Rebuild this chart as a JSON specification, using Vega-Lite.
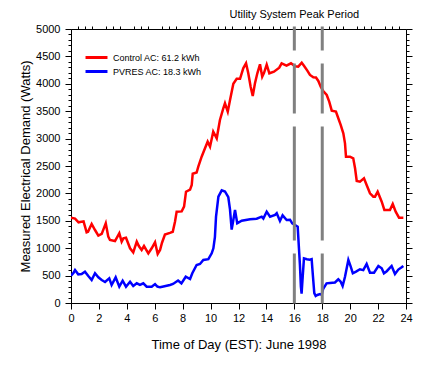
{
  "$schema": "https://vega.github.io/schema/vega-lite/v6.json",
  "width": 335,
  "height": 274,
  "autosize": {"type": "none"},
  "padding": {"left": 71, "top": 29, "right": 25, "bottom": 66},
  "background": "white",
  "config": {
    "view": {"stroke": "black", "strokeWidth": 1},
    "font": "Liberation Sans",
    "axis": {
      "grid": false,
      "domainColor": "black",
      "tickColor": "black",
      "labelColor": "black",
      "titleColor": "black",
      "labelFont": "Liberation Sans",
      "titleFont": "Liberation Sans",
      "labelFontSize": 11,
      "titleFontSize": 13,
      "titleFontWeight": "normal",
      "labelOverlap": false
    },
    "legend": {
      "labelFont": "Liberation Sans",
      "labelFontSize": 9,
      "labelColor": "black"
    }
  },
  "datasets": {
    "demand": [
      {"t":0,"W":1557,"s":"Control AC: 61.2 kWh"},{"t":0.29,"W":1540,"s":"Control AC: 61.2 kWh"},{"t":0.54,"W":1473,"s":"Control AC: 61.2 kWh"},{"t":0.9,"W":1490,"s":"Control AC: 61.2 kWh"},{"t":1.12,"W":1290,"s":"Control AC: 61.2 kWh"},{"t":1.22,"W":1300,"s":"Control AC: 61.2 kWh"},{"t":1.48,"W":1442,"s":"Control AC: 61.2 kWh"},{"t":1.72,"W":1332,"s":"Control AC: 61.2 kWh"},{"t":1.96,"W":1229,"s":"Control AC: 61.2 kWh"},{"t":2.2,"W":1260,"s":"Control AC: 61.2 kWh"},{"t":2.49,"W":1454,"s":"Control AC: 61.2 kWh"},{"t":2.67,"W":1210,"s":"Control AC: 61.2 kWh"},{"t":2.79,"W":1150,"s":"Control AC: 61.2 kWh"},{"t":3.15,"W":1131,"s":"Control AC: 61.2 kWh"},{"t":3.46,"W":1272,"s":"Control AC: 61.2 kWh"},{"t":3.63,"W":1120,"s":"Control AC: 61.2 kWh"},{"t":3.75,"W":1180,"s":"Control AC: 61.2 kWh"},{"t":3.94,"W":1190,"s":"Control AC: 61.2 kWh"},{"t":4.23,"W":998,"s":"Control AC: 61.2 kWh"},{"t":4.46,"W":925,"s":"Control AC: 61.2 kWh"},{"t":4.71,"W":1120,"s":"Control AC: 61.2 kWh"},{"t":4.87,"W":1034,"s":"Control AC: 61.2 kWh"},{"t":5.06,"W":967,"s":"Control AC: 61.2 kWh"},{"t":5.23,"W":1040,"s":"Control AC: 61.2 kWh"},{"t":5.54,"W":906,"s":"Control AC: 61.2 kWh"},{"t":5.78,"W":998,"s":"Control AC: 61.2 kWh"},{"t":6.02,"W":1108,"s":"Control AC: 61.2 kWh"},{"t":6.21,"W":894,"s":"Control AC: 61.2 kWh"},{"t":6.38,"W":967,"s":"Control AC: 61.2 kWh"},{"t":6.52,"W":1100,"s":"Control AC: 61.2 kWh"},{"t":6.73,"W":1250,"s":"Control AC: 61.2 kWh"},{"t":7.09,"W":1280,"s":"Control AC: 61.2 kWh"},{"t":7.29,"W":1300,"s":"Control AC: 61.2 kWh"},{"t":7.45,"W":1484,"s":"Control AC: 61.2 kWh"},{"t":7.57,"W":1667,"s":"Control AC: 61.2 kWh"},{"t":7.93,"W":1672,"s":"Control AC: 61.2 kWh"},{"t":8.1,"W":1758,"s":"Control AC: 61.2 kWh"},{"t":8.24,"W":2031,"s":"Control AC: 61.2 kWh"},{"t":8.53,"W":2070,"s":"Control AC: 61.2 kWh"},{"t":8.65,"W":2154,"s":"Control AC: 61.2 kWh"},{"t":8.72,"W":2360,"s":"Control AC: 61.2 kWh"},{"t":9.0,"W":2380,"s":"Control AC: 61.2 kWh"},{"t":9.12,"W":2488,"s":"Control AC: 61.2 kWh"},{"t":9.36,"W":2670,"s":"Control AC: 61.2 kWh"},{"t":9.6,"W":2823,"s":"Control AC: 61.2 kWh"},{"t":9.79,"W":2944,"s":"Control AC: 61.2 kWh"},{"t":9.96,"W":2853,"s":"Control AC: 61.2 kWh"},{"t":10.19,"W":3127,"s":"Control AC: 61.2 kWh"},{"t":10.44,"W":3005,"s":"Control AC: 61.2 kWh"},{"t":10.67,"W":3340,"s":"Control AC: 61.2 kWh"},{"t":10.91,"W":3553,"s":"Control AC: 61.2 kWh"},{"t":11.03,"W":3645,"s":"Control AC: 61.2 kWh"},{"t":11.23,"W":3492,"s":"Control AC: 61.2 kWh"},{"t":11.39,"W":3700,"s":"Control AC: 61.2 kWh"},{"t":11.63,"W":4000,"s":"Control AC: 61.2 kWh"},{"t":11.87,"W":4090,"s":"Control AC: 61.2 kWh"},{"t":12.11,"W":4090,"s":"Control AC: 61.2 kWh"},{"t":12.34,"W":4283,"s":"Control AC: 61.2 kWh"},{"t":12.54,"W":4374,"s":"Control AC: 61.2 kWh"},{"t":12.7,"W":4192,"s":"Control AC: 61.2 kWh"},{"t":12.87,"W":3948,"s":"Control AC: 61.2 kWh"},{"t":13.02,"W":3778,"s":"Control AC: 61.2 kWh"},{"t":13.18,"W":4009,"s":"Control AC: 61.2 kWh"},{"t":13.35,"W":4192,"s":"Control AC: 61.2 kWh"},{"t":13.54,"W":4356,"s":"Control AC: 61.2 kWh"},{"t":13.7,"W":4130,"s":"Control AC: 61.2 kWh"},{"t":13.83,"W":4200,"s":"Control AC: 61.2 kWh"},{"t":14.02,"W":4350,"s":"Control AC: 61.2 kWh"},{"t":14.21,"W":4192,"s":"Control AC: 61.2 kWh"},{"t":14.54,"W":4222,"s":"Control AC: 61.2 kWh"},{"t":14.92,"W":4295,"s":"Control AC: 61.2 kWh"},{"t":15.09,"W":4374,"s":"Control AC: 61.2 kWh"},{"t":15.44,"W":4331,"s":"Control AC: 61.2 kWh"},{"t":15.76,"W":4374,"s":"Control AC: 61.2 kWh"},{"t":16.05,"W":4320,"s":"Control AC: 61.2 kWh"},{"t":16.28,"W":4313,"s":"Control AC: 61.2 kWh"},{"t":16.53,"W":4386,"s":"Control AC: 61.2 kWh"},{"t":16.69,"W":4330,"s":"Control AC: 61.2 kWh"},{"t":16.93,"W":4240,"s":"Control AC: 61.2 kWh"},{"t":17.12,"W":4161,"s":"Control AC: 61.2 kWh"},{"t":17.36,"W":4119,"s":"Control AC: 61.2 kWh"},{"t":17.55,"W":4115,"s":"Control AC: 61.2 kWh"},{"t":17.72,"W":4052,"s":"Control AC: 61.2 kWh"},{"t":17.89,"W":3948,"s":"Control AC: 61.2 kWh"},{"t":18.07,"W":3869,"s":"Control AC: 61.2 kWh"},{"t":18.32,"W":3796,"s":"Control AC: 61.2 kWh"},{"t":18.5,"W":3674,"s":"Control AC: 61.2 kWh"},{"t":18.68,"W":3510,"s":"Control AC: 61.2 kWh"},{"t":18.98,"W":3492,"s":"Control AC: 61.2 kWh"},{"t":19.15,"W":3371,"s":"Control AC: 61.2 kWh"},{"t":19.32,"W":3249,"s":"Control AC: 61.2 kWh"},{"t":19.51,"W":3097,"s":"Control AC: 61.2 kWh"},{"t":19.63,"W":2914,"s":"Control AC: 61.2 kWh"},{"t":19.7,"W":2670,"s":"Control AC: 61.2 kWh"},{"t":19.99,"W":2670,"s":"Control AC: 61.2 kWh"},{"t":20.22,"W":2640,"s":"Control AC: 61.2 kWh"},{"t":20.35,"W":2458,"s":"Control AC: 61.2 kWh"},{"t":20.47,"W":2227,"s":"Control AC: 61.2 kWh"},{"t":20.7,"W":2214,"s":"Control AC: 61.2 kWh"},{"t":20.99,"W":2275,"s":"Control AC: 61.2 kWh"},{"t":21.18,"W":2154,"s":"Control AC: 61.2 kWh"},{"t":21.42,"W":2002,"s":"Control AC: 61.2 kWh"},{"t":21.66,"W":1940,"s":"Control AC: 61.2 kWh"},{"t":21.78,"W":1940,"s":"Control AC: 61.2 kWh"},{"t":21.97,"W":2031,"s":"Control AC: 61.2 kWh"},{"t":22.26,"W":1849,"s":"Control AC: 61.2 kWh"},{"t":22.45,"W":1697,"s":"Control AC: 61.2 kWh"},{"t":22.85,"W":1697,"s":"Control AC: 61.2 kWh"},{"t":23.05,"W":1807,"s":"Control AC: 61.2 kWh"},{"t":23.26,"W":1667,"s":"Control AC: 61.2 kWh"},{"t":23.5,"W":1557,"s":"Control AC: 61.2 kWh"},{"t":23.81,"W":1557,"s":"Control AC: 61.2 kWh"},
      {"t":0,"W":499,"s":"PVRES AC: 18.3 kWh"},{"t":0.19,"W":553,"s":"PVRES AC: 18.3 kWh"},{"t":0.29,"W":602,"s":"PVRES AC: 18.3 kWh"},{"t":0.52,"W":523,"s":"PVRES AC: 18.3 kWh"},{"t":0.76,"W":530,"s":"PVRES AC: 18.3 kWh"},{"t":1.0,"W":572,"s":"PVRES AC: 18.3 kWh"},{"t":1.24,"W":493,"s":"PVRES AC: 18.3 kWh"},{"t":1.48,"W":420,"s":"PVRES AC: 18.3 kWh"},{"t":1.72,"W":542,"s":"PVRES AC: 18.3 kWh"},{"t":1.96,"W":469,"s":"PVRES AC: 18.3 kWh"},{"t":2.2,"W":420,"s":"PVRES AC: 18.3 kWh"},{"t":2.44,"W":383,"s":"PVRES AC: 18.3 kWh"},{"t":2.74,"W":450,"s":"PVRES AC: 18.3 kWh"},{"t":2.91,"W":329,"s":"PVRES AC: 18.3 kWh"},{"t":3.2,"W":469,"s":"PVRES AC: 18.3 kWh"},{"t":3.46,"W":298,"s":"PVRES AC: 18.3 kWh"},{"t":3.7,"W":407,"s":"PVRES AC: 18.3 kWh"},{"t":3.94,"W":298,"s":"PVRES AC: 18.3 kWh"},{"t":4.23,"W":389,"s":"PVRES AC: 18.3 kWh"},{"t":4.46,"W":310,"s":"PVRES AC: 18.3 kWh"},{"t":4.71,"W":359,"s":"PVRES AC: 18.3 kWh"},{"t":4.94,"W":329,"s":"PVRES AC: 18.3 kWh"},{"t":5.18,"W":359,"s":"PVRES AC: 18.3 kWh"},{"t":5.42,"W":298,"s":"PVRES AC: 18.3 kWh"},{"t":5.78,"W":298,"s":"PVRES AC: 18.3 kWh"},{"t":6.02,"W":345,"s":"PVRES AC: 18.3 kWh"},{"t":6.19,"W":300,"s":"PVRES AC: 18.3 kWh"},{"t":6.38,"W":286,"s":"PVRES AC: 18.3 kWh"},{"t":6.62,"W":300,"s":"PVRES AC: 18.3 kWh"},{"t":7.09,"W":329,"s":"PVRES AC: 18.3 kWh"},{"t":7.31,"W":347,"s":"PVRES AC: 18.3 kWh"},{"t":7.67,"W":410,"s":"PVRES AC: 18.3 kWh"},{"t":7.91,"W":359,"s":"PVRES AC: 18.3 kWh"},{"t":8.22,"W":480,"s":"PVRES AC: 18.3 kWh"},{"t":8.53,"W":438,"s":"PVRES AC: 18.3 kWh"},{"t":8.69,"W":542,"s":"PVRES AC: 18.3 kWh"},{"t":9.0,"W":694,"s":"PVRES AC: 18.3 kWh"},{"t":9.24,"W":712,"s":"PVRES AC: 18.3 kWh"},{"t":9.48,"W":785,"s":"PVRES AC: 18.3 kWh"},{"t":9.84,"W":800,"s":"PVRES AC: 18.3 kWh"},{"t":10.08,"W":907,"s":"PVRES AC: 18.3 kWh"},{"t":10.2,"W":998,"s":"PVRES AC: 18.3 kWh"},{"t":10.31,"W":1200,"s":"PVRES AC: 18.3 kWh"},{"t":10.39,"W":1575,"s":"PVRES AC: 18.3 kWh"},{"t":10.56,"W":1940,"s":"PVRES AC: 18.3 kWh"},{"t":10.8,"W":2055,"s":"PVRES AC: 18.3 kWh"},{"t":11.03,"W":2035,"s":"PVRES AC: 18.3 kWh"},{"t":11.27,"W":1930,"s":"PVRES AC: 18.3 kWh"},{"t":11.39,"W":1710,"s":"PVRES AC: 18.3 kWh"},{"t":11.51,"W":1340,"s":"PVRES AC: 18.3 kWh"},{"t":11.63,"W":1515,"s":"PVRES AC: 18.3 kWh"},{"t":11.75,"W":1697,"s":"PVRES AC: 18.3 kWh"},{"t":11.91,"W":1454,"s":"PVRES AC: 18.3 kWh"},{"t":12.23,"W":1502,"s":"PVRES AC: 18.3 kWh"},{"t":12.83,"W":1527,"s":"PVRES AC: 18.3 kWh"},{"t":13.3,"W":1539,"s":"PVRES AC: 18.3 kWh"},{"t":13.66,"W":1575,"s":"PVRES AC: 18.3 kWh"},{"t":13.78,"W":1540,"s":"PVRES AC: 18.3 kWh"},{"t":14.02,"W":1667,"s":"PVRES AC: 18.3 kWh"},{"t":14.26,"W":1575,"s":"PVRES AC: 18.3 kWh"},{"t":14.62,"W":1606,"s":"PVRES AC: 18.3 kWh"},{"t":14.74,"W":1637,"s":"PVRES AC: 18.3 kWh"},{"t":14.97,"W":1497,"s":"PVRES AC: 18.3 kWh"},{"t":15.16,"W":1600,"s":"PVRES AC: 18.3 kWh"},{"t":15.45,"W":1515,"s":"PVRES AC: 18.3 kWh"},{"t":15.69,"W":1520,"s":"PVRES AC: 18.3 kWh"},{"t":15.85,"W":1454,"s":"PVRES AC: 18.3 kWh"},{"t":16.05,"W":1424,"s":"PVRES AC: 18.3 kWh"},{"t":16.24,"W":1393,"s":"PVRES AC: 18.3 kWh"},{"t":16.33,"W":1000,"s":"PVRES AC: 18.3 kWh"},{"t":16.4,"W":700,"s":"PVRES AC: 18.3 kWh"},{"t":16.47,"W":300,"s":"PVRES AC: 18.3 kWh"},{"t":16.52,"W":170,"s":"PVRES AC: 18.3 kWh"},{"t":16.6,"W":480,"s":"PVRES AC: 18.3 kWh"},{"t":16.69,"W":815,"s":"PVRES AC: 18.3 kWh"},{"t":16.9,"W":800,"s":"PVRES AC: 18.3 kWh"},{"t":17.1,"W":790,"s":"PVRES AC: 18.3 kWh"},{"t":17.24,"W":800,"s":"PVRES AC: 18.3 kWh"},{"t":17.33,"W":500,"s":"PVRES AC: 18.3 kWh"},{"t":17.43,"W":180,"s":"PVRES AC: 18.3 kWh"},{"t":17.53,"W":128,"s":"PVRES AC: 18.3 kWh"},{"t":17.65,"W":146,"s":"PVRES AC: 18.3 kWh"},{"t":17.84,"W":164,"s":"PVRES AC: 18.3 kWh"},{"t":17.96,"W":150,"s":"PVRES AC: 18.3 kWh"},{"t":18.07,"W":260,"s":"PVRES AC: 18.3 kWh"},{"t":18.31,"W":359,"s":"PVRES AC: 18.3 kWh"},{"t":18.55,"W":365,"s":"PVRES AC: 18.3 kWh"},{"t":18.91,"W":375,"s":"PVRES AC: 18.3 kWh"},{"t":19.15,"W":432,"s":"PVRES AC: 18.3 kWh"},{"t":19.32,"W":390,"s":"PVRES AC: 18.3 kWh"},{"t":19.46,"W":310,"s":"PVRES AC: 18.3 kWh"},{"t":19.63,"W":480,"s":"PVRES AC: 18.3 kWh"},{"t":19.87,"W":785,"s":"PVRES AC: 18.3 kWh"},{"t":20.04,"W":663,"s":"PVRES AC: 18.3 kWh"},{"t":20.19,"W":542,"s":"PVRES AC: 18.3 kWh"},{"t":20.42,"W":572,"s":"PVRES AC: 18.3 kWh"},{"t":20.7,"W":615,"s":"PVRES AC: 18.3 kWh"},{"t":20.94,"W":600,"s":"PVRES AC: 18.3 kWh"},{"t":21.18,"W":712,"s":"PVRES AC: 18.3 kWh"},{"t":21.42,"W":553,"s":"PVRES AC: 18.3 kWh"},{"t":21.71,"W":553,"s":"PVRES AC: 18.3 kWh"},{"t":22.02,"W":675,"s":"PVRES AC: 18.3 kWh"},{"t":22.26,"W":633,"s":"PVRES AC: 18.3 kWh"},{"t":22.42,"W":542,"s":"PVRES AC: 18.3 kWh"},{"t":22.62,"W":580,"s":"PVRES AC: 18.3 kWh"},{"t":22.97,"W":675,"s":"PVRES AC: 18.3 kWh"},{"t":23.21,"W":529,"s":"PVRES AC: 18.3 kWh"},{"t":23.45,"W":610,"s":"PVRES AC: 18.3 kWh"},{"t":23.69,"W":651,"s":"PVRES AC: 18.3 kWh"},{"t":23.81,"W":675,"s":"PVRES AC: 18.3 kWh"}
    ],
    "peak": [{"t": 16}, {"t": 18}]
  },
  "layer": [
    {
      "data": {"name": "demand"},
      "mark": {"type": "line", "strokeWidth": 2.5, "clip": true},
      "encoding": {
        "x": {
          "field": "t", "type": "quantitative",
          "scale": {"domain": [0, 24], "nice": false},
          "axis": {
            "title": "Time of Day (EST): June 1998",
            "values": [0,2,4,6,8,10,12,14,16,18,20,22,24],
            "format": "d",
            "tickSize": 6,
            "labelFlush": false,
            "labelOverlap": false,
            "labelPadding": 3,
            "titlePadding": 15
          }
        },
        "y": {
          "field": "W", "type": "quantitative",
          "scale": {"domain": [0, 5000], "nice": false},
          "axis": {
            "title": "Measured Electrical Demand (Watts)",
            "orient": "left",
            "values": [0,100,200,300,400,500,600,700,800,900,1000,1100,1200,1300,1400,1500,1600,1700,1800,1900,2000,2100,2200,2300,2400,2500,2600,2700,2800,2900,3000,3100,3200,3300,3400,3500,3600,3700,3800,3900,4000,4100,4200,4300,4400,4500,4600,4700,4800,4900,5000],
            "labelExpr": "datum.value % 500 === 0 ? format(datum.value, 'd') : ''",
            "tickSize": {"condition": {"test": "datum.value % 500 === 0", "value": 6}, "value": 3},
            "labelOverlap": false,
            "labelPadding": 5,
            "titlePadding": 3
          }
        },
        "color": {
          "field": "s", "type": "nominal",
          "scale": {"domain": ["Control AC: 61.2 kWh", "PVRES AC: 18.3 kWh"], "range": ["#ff0000", "#0000ff"]},
          "legend": {
            "title": null,
            "orient": "none",
            "legendX": 18,
            "legendY": 21,
            "symbolType": "M-1.83,0H1.83",
            "symbolSize": 144,
            "symbolStrokeWidth": 3,
            "labelOffset": 9,
            "rowPadding": 0,
            "padding": 0
          }
        }
      }
    },
    {
      "data": {"name": "peak"},
      "mark": {"type": "rule", "color": "#808080", "strokeWidth": 3, "strokeDash": [24, 13, 50, 13, 114, 13, 60]},
      "encoding": {
        "x": {
          "field": "t", "type": "quantitative",
          "axis": {
            "title": null,
            "values": [0.5,1,1.5,2.5,3,3.5,4.5,5,5.5,6.5,7,7.5,8.5,9,9.5,10.5,11,11.5,12.5,13,13.5,14.5,15,15.5,16.5,17,17.5,18.5,19,19.5,20.5,21,21.5,22.5,23,23.5],
            "labels": false,
            "domain": false,
            "tickSize": 3
          }
        },
        "y": {
          "datum": 5045, "type": "quantitative",
          "axis": {
            "orient": "right",
            "title": null,
            "values": [0,100,200,300,400,500,600,700,800,900,1000,1100,1200,1300,1400,1500,1600,1700,1800,1900,2000,2100,2200,2300,2400,2500,2600,2700,2800,2900,3000,3100,3200,3300,3400,3500,3600,3700,3800,3900,4000,4100,4200,4300,4400,4500,4600,4700,4800,4900,5000],
            "labels": false,
            "tickSize": {"condition": {"test": "datum.value % 500 === 0", "value": 6}, "value": 3}
          }
        },
        "y2": {"datum": -10}
      }
    },
    {
      "data": {"values": [{"t": 16, "label": "Utility System Peak Period"}]},
      "mark": {"type": "text", "fontSize": 11, "font": "Liberation Sans", "color": "black", "align": "center", "baseline": "middle"},
      "encoding": {
        "x": {"field": "t", "type": "quantitative", "axis": null},
        "y": {"datum": 5255, "type": "quantitative", "axis": null},
        "text": {"field": "label"}
      }
    }
  ],
  "resolve": {"axis": {"x": "independent", "y": "independent"}}
}
